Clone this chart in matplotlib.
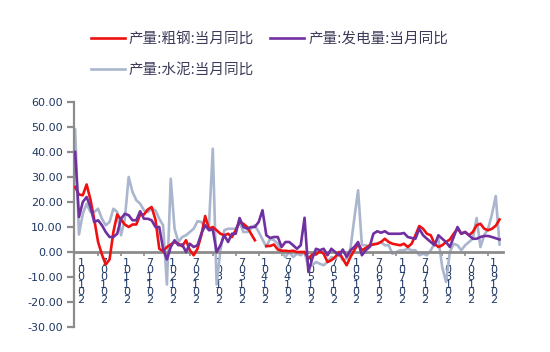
import matplotlib
matplotlib.use('Agg')
import matplotlib.pyplot as plt
import numpy as np

nan = np.nan

# monthly year-on-year growth, %
steel = [26, 23, 22.7, 27, 21, 13, 4, -1, -5, -3, 8, 15, 13, 11, 10, 11, 11, 15, 15, 17,
         18, 13, 1.3, 0.3, 2, 3, 4, 3.3, 2.3, 4.7, 0.7, -1.3, 1.3, 6.7, 14.4, 9.3, 10, 8.7, 7.3, 6.7,
         7.3, 6, 8.7, 12, 11.3, 10, 7.3, 4.7, nan, nan, 2.4, 2.4, 3, 1, 0.5, 0.5, 0.3, 0.5, 0, 0,
         0, -2.7, -1, -1, 0.3, -0.7, -4, -3.3, -2, 0, -2.7, -5.3, -2, 0.7, 3.3, 0.7, 1.6, 2.7, 3, 3.3,
         4, 5.3, 4, 3.3, 3, 2.7, 3.3, 2, 3.3, 6.7, 10.4, 9.3, 7.3, 6.7, 3.3, 2, 2.7, 4, 5, 7.3,
         9.3, 7.3, 8, 6.7, 8, 10.7, 11.3, 9.3, 8.7, 9.3, 10.5, 13]
power = [40, 14, 20, 22, 18, 12, 12.7, 10.7, 8, 6, 6, 7.3, 13.3, 15.3, 14.7, 12.7, 12.7, 16.3, 13.3, 13.3,
         12.7, 10, 10, 1.3, -3, 2, 4.7, 2.7, 3, 0, 3.3, 2, 2.7, 7.3, 10.7, 8.7, 9, 0, 2.7, 6.7,
         4, 7.3, 7.3, 13.6, 10, 9.3, 10, 10, 12, 16.7, 6.7, 5.6, 6, 6, 2, 4, 4, 2.7, 1.3, 2.7,
         13.7, -8, -2.7, 1.3, 0.7, 1.3, -1.3, 1.3, 0, -1.3, 1, -2, 0.7, 2, 4, -1.3, 0.7, 2, 7.3, 8.3,
         7.7, 8.3, 7.3, 7.3, 7.3, 7.3, 7.6, 6, 5.6, 5.3, 9.3, 6.7, 5.3, 4, 2.7, 6.7, 5.3, 4, 2, 6,
         10, 7.3, 8, 6.7, 5.3, 5.3, 6, 6.4, 6.4, 6, 5.5, 5]
cement = [49, 7, 15.3, 19.3, 16, 16, 17.3, 13.3, 10.7, 12, 17.3, 16, 6.7, 13.3, 30, 24, 20.7, 19.3, 16.7, 16,
          17.3, 16.7, 13.3, 10.7, -13, 29.3, 9.3, 4, 6, 6.7, 8, 9.3, 12.3, 12, 10, 10.7, 41.3, -13, 0.7, 8.7,
          9.3, 9.3, 9.3, 12, 8, 8, 9.3, 10.7, 8, 5, 2, 5.3, 4.7, 3.3, 0, -2, 0, -2, -0.7, -1.3,
          0, -6, -5.3, -4, -4.7, -5.3, -4, -2, -2.7, -0.7, -3.3, -2.7, 1.3, 13.3, 24.7, 2.7, 2.7, 2, 3.3, 3.3,
          4, 2.7, 2.7, -0.7, 0, 0.7, 0.7, 1.3, 0.7, 0.7, -1.3, -0.7, -1.3, 0.7, 3.3, 5.3, -6, -12, 0, 3.3,
          2.7, 0.7, 2.7, 4, 5.3, 13.6, 2, 6.7, 9.3, 15, 22.4, 3]

names = ['产量:粗钢:当月同比', '产量:发电量:当月同比', '产量:水泥:当月同比']
years = list(range(2010, 2020))
tick_labels = []
for y in years:
    for m in ['01', '07']:
        if y == 2019 and m == '07':
            continue
        tick_labels.append('\n'.join(reversed(f'{y}{m}')))

x = np.arange(len(steel))

fig = plt.figure(figsize=(5.5, 3.52), dpi=100)
ax = fig.add_axes([74 / 550, 1 - 327 / 352, 429 / 550, 225 / 352])

l3, = ax.plot(x, cement, color='#a9b6cd', lw=1.9, zorder=2)
l1, = ax.plot(x, steel, color='#ee1111', lw=1.9, zorder=3)
l2, = ax.plot(x, power, color='#7030a0', lw=1.9, zorder=4)

ax.set_xlim(-0.3, 111.9)
ax.set_ylim(-30, 60)
ax.set_yticks(np.arange(-30, 61, 10))
ax.set_yticklabels([f'{v:.2f}' for v in np.arange(-30, 61, 10)])

gray = '#8c8c8c'
for s in ['top', 'right']:
    ax.spines[s].set_visible(False)
ax.spines['left'].set_color(gray)
ax.spines['left'].set_linewidth(1.6)
ax.spines['bottom'].set_position(('data', 0))
ax.spines['bottom'].set_color(gray)
ax.spines['bottom'].set_linewidth(2)

ax.tick_params(axis='y', colors=gray, width=1.6, length=5, labelsize=8, labelcolor='#1f3864', pad=3)

lab_pos = 1.5 + 6 * np.arange(len(tick_labels))
ax.set_xticks(lab_pos)
ax.set_xticklabels(tick_labels, fontsize=8, color='#1f3864', linespacing=0.68,
                   va='top', family='DejaVu Sans')
ax.set_xticks(np.arange(6, 112, 6), minor=True)
ax.tick_params(axis='x', which='major', length=0, pad=4)
ax.tick_params(axis='x', which='minor', length=3, width=1.2, color=gray, direction='out')

# legend filled row by row like the original: steel, power / cement
leg = fig.legend([l1, l3, l2], [names[0], names[2], names[1]], loc='upper left',
                 bbox_to_anchor=(91 / 550, 1 - 32 / 352),
                 ncol=2, frameon=False, prop={'family': ['Noto Sans CJK SC', 'DejaVu Sans'], 'size': 10.5},
                 handlelength=2.3, handletextpad=0.3, columnspacing=1.1, labelspacing=1.15,
                 borderpad=0, borderaxespad=0)
for t in leg.get_texts():
    t.set_color('#3c3c5a')

fig.savefig('out.png', dpi=100)
